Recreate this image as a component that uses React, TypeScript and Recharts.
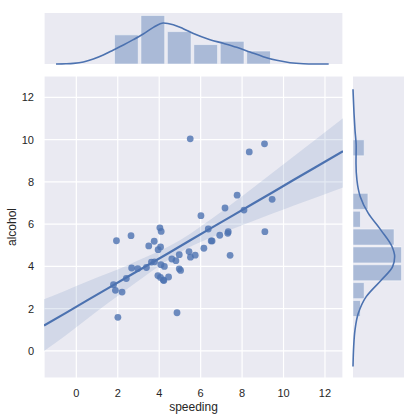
import {
  ComposedChart,
  Scatter,
  Line,
  Area,
  Bar,
  XAxis,
  YAxis,
  CartesianGrid,
} from 'recharts';

// car_crashes by state: speeding / alcohol involved fatalities
const speeding = [
  7.332, 7.421, 6.51, 4.032, 4.2, 5.032, 4.968, 6.156, 2.006, 3.759, 2.964, 9.45, 5.508,
  4.608, 3.625, 2.669, 4.806, 4.066, 7.175, 5.738, 4.25, 1.886, 3.384, 2.208, 2.64, 6.923,
  8.346, 1.937, 5.439, 4.06, 1.792, 3.496, 3.936, 6.552, 5.497, 3.948, 6.368, 4.224, 9.1,
  3.774, 9.082, 6.014, 4.095, 7.76, 4.859, 4.08, 2.413, 4.452, 8.092, 4.968, 7.308,
];
const alcohol = [
  5.64, 4.525, 5.208, 5.824, 3.36, 3.808, 3.888, 4.86, 1.593, 5.191, 3.9, 7.175, 4.437,
  4.352, 4.205, 3.925, 4.272, 4.922, 6.765, 4.53, 4.0, 2.87, 3.948, 2.784, 5.456, 5.474,
  9.416, 5.215, 4.704, 3.48, 3.136, 4.968, 3.567, 5.208, 10.038, 4.794, 5.771, 3.328, 5.642,
  4.218, 9.799, 6.402, 5.655, 7.372, 1.808, 4.08, 3.429, 3.498, 6.664, 4.554, 5.568,
];

// regression fit with its confidence band
const fitX = [-1.56, -0.5, 0.5, 1.5, 2.5, 3.5, 4.5, 5.5, 6.5, 7.5, 8.5, 9.5, 10.5, 11.5, 12.87];
const fitY = [1.2, 1.8, 2.38, 2.95, 3.52, 4.09, 4.66, 5.24, 5.81, 6.38, 6.95, 7.52, 8.1, 8.67, 9.45];
const ciLow = [0.0, 0.74, 1.5, 2.24, 2.97, 3.68, 4.35, 4.93, 5.37, 5.76, 6.14, 6.51, 6.88, 7.24, 7.73];
const ciHigh = [2.45, 2.86, 3.27, 3.66, 4.07, 4.5, 4.97, 5.55, 6.23, 6.95, 7.7, 8.45, 9.21, 9.97, 11.01];

// marginal histograms (bin centres and counts)
const speedBins = [2.43, 3.707, 4.983, 6.259, 7.536, 8.812];
const speedCounts = [9, 15, 10, 6, 7, 4];
const alcoholBins = [2.015, 2.86, 3.704, 4.549, 5.393, 6.238, 7.082, 7.927, 8.771, 9.616];
const alcoholCounts = [2, 3, 13, 13, 11, 2, 4, 0, 0, 3];

// kernel density curves, in count units
const speedKdeX = [-0.98, -0.5, -0.14, 0.34, 0.82, 1.3, 1.79, 2.27, 2.75, 3.23, 3.72, 4.2, 4.68, 5.16, 5.65, 6.45, 7.09, 7.74, 8.38, 9.02, 9.67, 10.31, 10.96, 11.6, 12.18];
const speedKdeY = [0, 0.07, 0.2, 0.62, 1.54, 2.78, 4.33, 5.87, 7.52, 9.27, 11.3, 12.67, 12.15, 10.9, 9.4, 7.52, 6.39, 5.15, 3.71, 2.27, 1.13, 0.41, 0.1, 0.02, 0];
const alcoholKdeX = [-0.74, 0.2, 0.99, 1.78, 2.57, 3.36, 3.99, 4.46, 4.94, 5.73, 6.52, 7.3, 8.09, 8.88, 9.67, 10.46, 11.25, 12.38];
const alcoholKdeY = [0, 0.18, 0.53, 1.42, 3.54, 7.6, 10.6, 11.15, 10.44, 7.43, 4.07, 1.95, 1.05, 0.8, 0.85, 0.53, 0.27, 0];

const ticks = [0, 2, 4, 6, 8, 10, 12];

const W = 417;
const H = 420;
const X_DOMAIN: [number, number] = [-1.56, 12.87];
const Y_DOMAIN: [number, number] = [-1.28, 13.01];
const SPEED_MAX = 15.75;
const ALCOHOL_MAX = 13.65;

// plot boxes
const MAIN = { left: 44, right: 343, top: 76, bottom: 378 };
const TOP = { top: 13, bottom: 64 };
const SIDE = { left: 353, right: 404 };

const BLUE = '#4c72b0';
const BG = '#eaeaf2';
const INK = '#262626';

const pxPerX = (MAIN.right - MAIN.left) / (X_DOMAIN[1] - X_DOMAIN[0]);
const pxPerY = (MAIN.bottom - MAIN.top) / (Y_DOMAIN[1] - Y_DOMAIN[0]);

const points = speeding.map((s, i) => ({ x: s, y: alcohol[i] }));
const fitRows = fitX.map((x, i) => ({ x, fit: fitY[i], band: [ciLow[i], ciHigh[i]] }));
const speedHist = speedBins.map((x, i) => ({ x, count: speedCounts[i] }));
const speedKde = speedKdeX.map((x, i) => ({ x, density: speedKdeY[i] }));
const alcoholHist = alcoholBins.map((v, i) => ({ v, count: alcoholCounts[i] }));
const alcoholKde = alcoholKdeX.map((v, i) => ({ v, density: alcoholKdeY[i] }));

const layer: React.CSSProperties = { position: 'absolute', left: 0, top: 0 };

const hidden = { tick: false, axisLine: false, tickLine: false } as const;

const topMargin = { top: TOP.top, right: W - MAIN.right, left: MAIN.left, bottom: H - TOP.bottom };
const sideMargin = { top: MAIN.top, right: W - SIDE.right, left: SIDE.left, bottom: H - MAIN.bottom };

function TopMarginal() {
  const barSize = (speedBins[1] - speedBins[0]) * pxPerX;
  return (
    <>
      <div style={layer}>
        <ComposedChart width={W} height={H} data={speedHist} margin={topMargin} barCategoryGap={0} barGap={0}>
          <CartesianGrid fill={BG} stroke="#ffffff" strokeWidth={1.2} horizontal={false} />
          <XAxis type="number" dataKey="x" domain={X_DOMAIN} allowDataOverflow ticks={ticks} height={0} {...hidden} />
          <YAxis type="number" domain={[0, SPEED_MAX]} width={0} {...hidden} />
          <Bar
            dataKey="count"
            barSize={barSize}
            fill={BLUE}
            fillOpacity={0.4}
            stroke="#ffffff"
            strokeOpacity={0.5}
            isAnimationActive={false}
          />
        </ComposedChart>
      </div>
      <div style={layer}>
        <ComposedChart width={W} height={H} data={speedKde} margin={topMargin}>
          <XAxis type="number" dataKey="x" domain={X_DOMAIN} allowDataOverflow height={0} {...hidden} />
          <YAxis type="number" domain={[0, SPEED_MAX]} width={0} {...hidden} />
          <Line type="monotone" dataKey="density" stroke={BLUE} strokeWidth={1.6} dot={false} isAnimationActive={false} />
        </ComposedChart>
      </div>
    </>
  );
}

function SideMarginal() {
  const barSize = (alcoholBins[1] - alcoholBins[0]) * pxPerY;
  return (
    <>
      <div style={layer}>
        <ComposedChart width={W} height={H} layout="vertical" data={alcoholHist} margin={sideMargin} barCategoryGap={0} barGap={0}>
          <CartesianGrid fill={BG} stroke="#ffffff" strokeWidth={1.2} vertical={false} />
          <XAxis type="number" domain={[0, ALCOHOL_MAX]} height={0} {...hidden} />
          <YAxis type="number" dataKey="v" domain={Y_DOMAIN} allowDataOverflow reversed ticks={ticks} width={0} {...hidden} />
          <Bar
            dataKey="count"
            barSize={barSize}
            fill={BLUE}
            fillOpacity={0.4}
            stroke="#ffffff"
            strokeOpacity={0.5}
            isAnimationActive={false}
          />
        </ComposedChart>
      </div>
      <div style={layer}>
        <ComposedChart width={W} height={H} layout="vertical" data={alcoholKde} margin={sideMargin}>
          <XAxis type="number" domain={[0, ALCOHOL_MAX]} height={0} {...hidden} />
          <YAxis type="number" dataKey="v" domain={Y_DOMAIN} allowDataOverflow reversed width={0} {...hidden} />
          <Line type="monotone" dataKey="density" stroke={BLUE} strokeWidth={1.6} dot={false} isAnimationActive={false} />
        </ComposedChart>
      </div>
    </>
  );
}

const Dot = (props: any) => (
  <circle cx={props.cx} cy={props.cy} r={3.4} fill={BLUE} fillOpacity={0.8} />
);

function JointPlot() {
  return (
    <div style={layer}>
      <ComposedChart
        width={W}
        height={H}
        data={fitRows}
        margin={{ top: MAIN.top, right: W - MAIN.right, left: 0, bottom: 0 }}
      >
        <CartesianGrid fill={BG} stroke="#ffffff" strokeWidth={1.2} />
        <XAxis
          type="number"
          dataKey="x"
          domain={X_DOMAIN}
          allowDataOverflow
          ticks={ticks}
          height={H - MAIN.bottom}
          axisLine={false}
          tickLine={false}
          tickSize={0}
          tickMargin={11}
          tick={{ fill: INK, fontSize: 11 }}
          label={{ value: 'speeding', position: 'insideBottom', offset: 9, fill: INK, fontSize: 12 }}
        />
        <YAxis
          type="number"
          domain={Y_DOMAIN}
          allowDataOverflow
          ticks={ticks}
          width={MAIN.left}
          axisLine={false}
          tickLine={false}
          tickSize={0}
          tickMargin={10}
          tick={{ fill: INK, fontSize: 11 }}
          label={{
            value: 'alcohol',
            angle: -90,
            position: 'insideLeft',
            offset: 12,
            fill: INK,
            fontSize: 12,
            style: { textAnchor: 'middle' },
          }}
        />
        <Scatter data={points} dataKey="y" shape={Dot} isAnimationActive={false} />
        <Area type="monotone" dataKey="band" stroke="none" fill={BLUE} fillOpacity={0.15} isAnimationActive={false} />
        <Line type="linear" dataKey="fit" stroke={BLUE} strokeWidth={2.2} dot={false} isAnimationActive={false} />
      </ComposedChart>
    </div>
  );
}

export default function App() {
  return (
    <div
      style={{
        position: 'absolute',
        left: 0,
        top: 0,
        width: W,
        height: H,
        background: '#ffffff',
        fontFamily: '"Liberation Sans", Arial, sans-serif',
      }}
    >
      <JointPlot />
      <TopMarginal />
      <SideMarginal />
    </div>
  );
}
